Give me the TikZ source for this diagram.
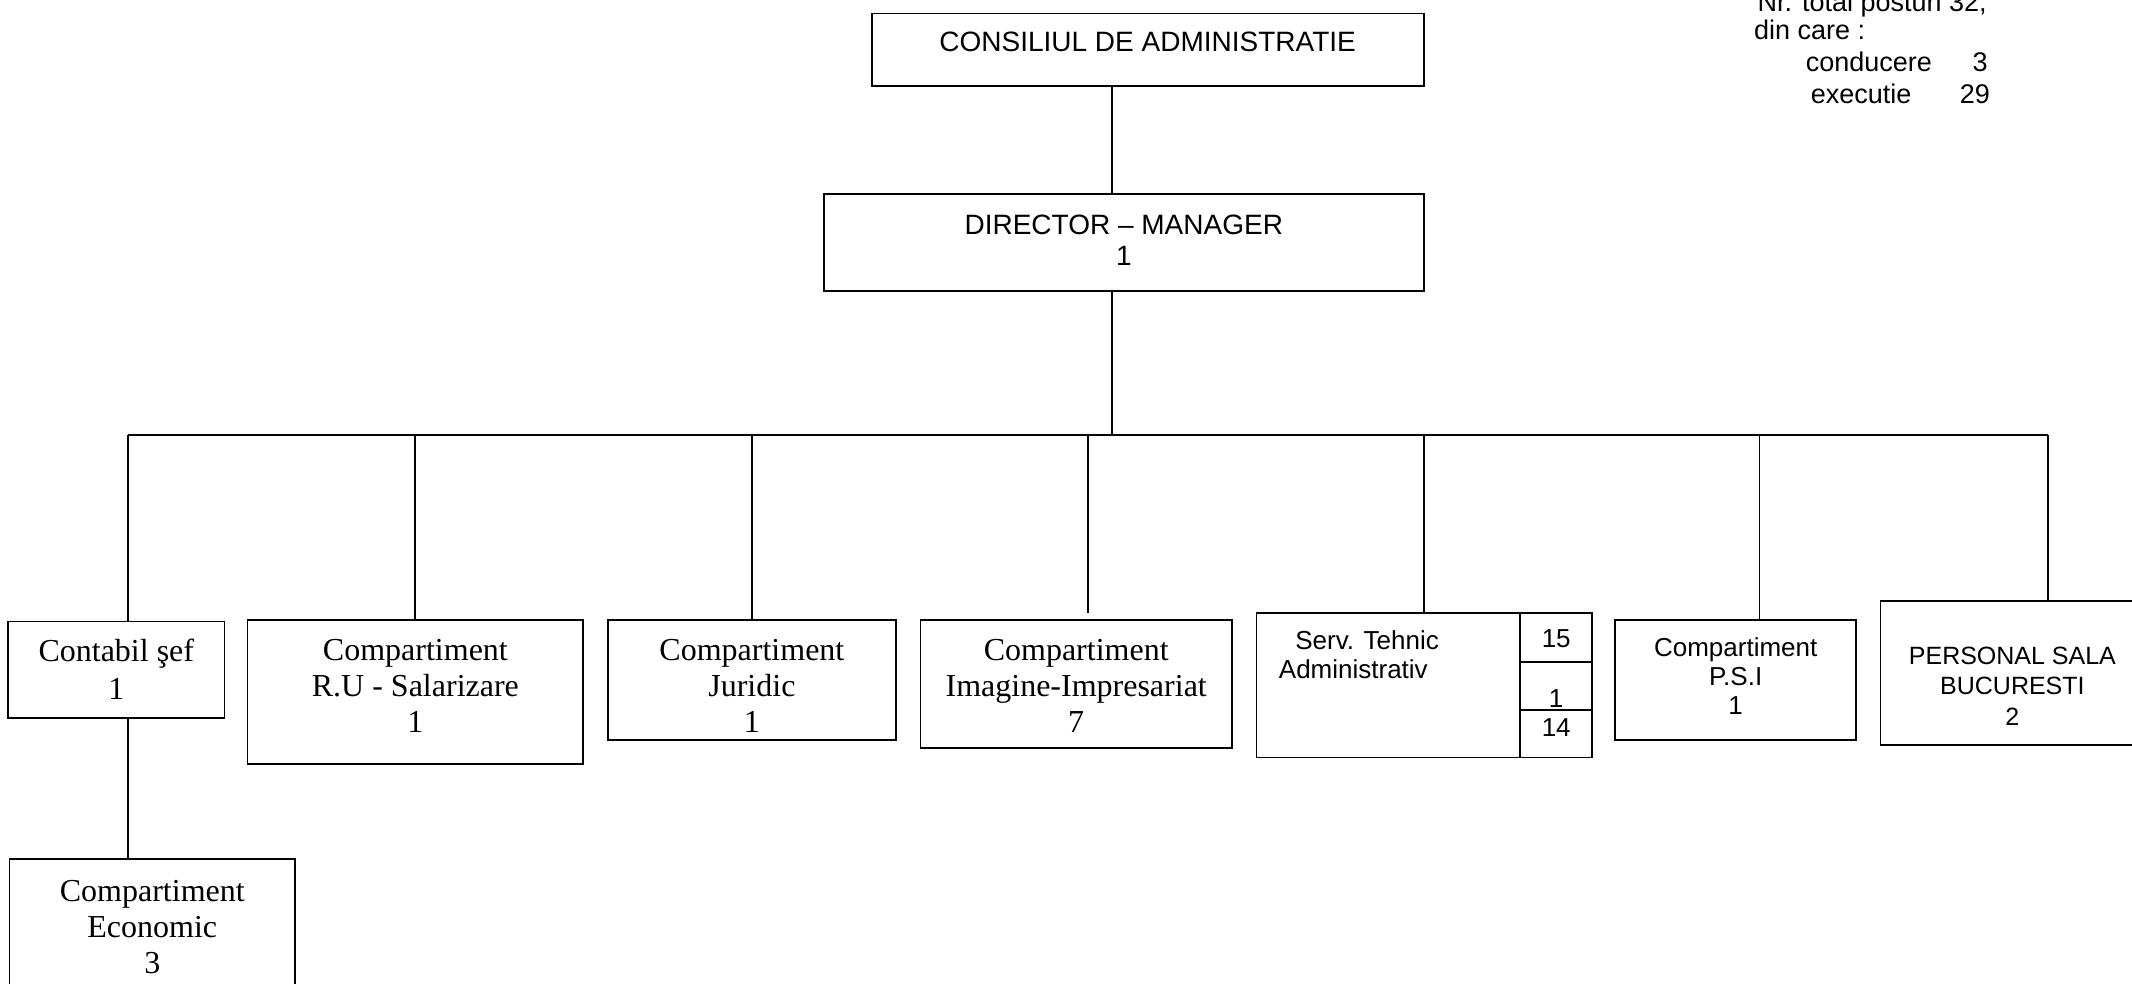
\documentclass[tikz,border=0pt]{standalone}
\usepackage{fontspec}
\setmainfont{Liberation Serif}
\newfontfamily\arialf[Ligatures=TeX]{Liberation Sans}
\begin{document}
\begin{tikzpicture}[x=0.5pt,y=-0.5pt, line width=0.9pt,
  box/.style={draw, rectangle, inner sep=0pt, outer sep=0pt},
  serift/.style={font=\fontsize{16}{18}\selectfont, align=center, inner sep=0pt},
  sanst/.style={font=\arialf\fontsize{13}{14.5}\selectfont, align=center, inner sep=0pt},
  bigsans/.style={font=\arialf\fontsize{14}{15.6}\selectfont, align=center, inner sep=0pt},
]
\useasboundingbox (0,0) rectangle (2132,984);
\clip (0,0) rectangle (2132,984);

% boxes
\node[box, minimum width=276pt, minimum height=36.05pt] (cons) at (1147.6,49.65) {};
\node[box, minimum width=299.8pt, minimum height=48.3pt] (dir) at (1123.8,242.7) {};
\node[box, minimum width=108.1pt, minimum height=48.25pt] (cont) at (116.3,669.65) {};
\node[box, minimum width=142.75pt, minimum height=75.35pt] (econ) at (152.25,934.65) {};
\node[box, minimum width=167.9pt, minimum height=72.1pt] (ru) at (415.4,692.1) {};
\node[box, minimum width=144.1pt, minimum height=59.85pt] (jur) at (751.9,679.85) {};
\node[box, minimum width=155.7pt, minimum height=63.9pt] (img) at (1076.2,683.9) {};
\node[box, minimum width=167.9pt, minimum height=72.1pt] (serv) at (1424.3,685.3) {};
\node[box, minimum width=120.35pt, minimum height=59.85pt] (psi) at (1735.65,679.85) {};
\node[box, minimum width=134.75pt, minimum height=72.05pt] (pers) at (2015.25,673.05) {};

% Serv. Tehnic subdivisions
\coordinate (dv) at (1520.1,685);
\coordinate (h1) at (1520.1,661.8);
\coordinate (h2) at (1520.1,709.8);
\draw (dv |- serv.north) -- (dv |- serv.south);
\draw (h1) -- (h1 -| serv.east);
\draw (h2) -- (h2 -| serv.east);

% connectors
\coordinate (tk) at (1112.2,435);
\coordinate (j1) at (127.8,435);
\coordinate (j2) at (414.7,435);
\coordinate (j3) at (751.9,435);
\coordinate (j4) at (1087.8,435);
\coordinate (j5) at (1423.6,435);
\coordinate (j6) at (1759.4,435);
\coordinate (j7) at (2047.7,435);
\draw (tk |- cons.south) -- (tk |- dir.north);
\draw (tk |- dir.south) -- (tk);
\draw (j1) -- (j7);
\draw (j1) -- (j1 |- cont.north);
\draw (j1 |- cont.south) -- (j1 |- econ.north);
\draw (j2) -- (j2 |- ru.north);
\draw (j3) -- (j3 |- jur.north);
\draw[shorten >=3.4pt] (j4) -- (j4 |- img.north);
\draw (j5) -- (j5 |- serv.north);
\draw (j6) -- (j6 |- psi.north);
\draw (j7) -- (j7 |- pers.north);

% texts
\node[bigsans] (tcons) at (1147.6,42.2) {CONSILIUL DE ADMINISTRATIE};
\node[bigsans] (tdir) at (1123.8,240) {DIRECTOR \textendash{} MANAGER\\1};
\node[serift, font=\fontsize{16}{19}\selectfont] (tcont) at (116.3,669) {Contabil şef\\1};
\node[serift] (tecon) at (152.3,926.6) {Compartiment\\Economic\\3};
\node[serift] (tru) at (415.4,686) {Compartiment\\R.U - Salarizare\\1};
\node[serift] (tjur) at (751.9,686) {Compartiment\\Juridic\\1};
\node[serift] (timg) at (1076.2,686) {Compartiment\\Imagine-Impresariat\\7};
\node[sanst, anchor=west] (tserv1) at (1294.4,640.4) {Serv. Tehnic};
\node[sanst, anchor=west] (tserv2) at (1278,669) {Administrativ};
\node[sanst] (n15) at (1556.2,639) {15};
\node[sanst] (n1) at (1556.2,699) {1};
\node[sanst] (n14) at (1556.2,727.4) {14};
\node[sanst] (tpsi) at (1735.7,676.4) {Compartiment\\P.S.I\\1};
\node[sanst, font=\arialf\fontsize{12.5}{15.3}\selectfont] (tpers) at (2012.4,686) {PERSONAL SALA\\BUCURESTI\\2};

% totals
\begin{scope}[every node/.style={font=\arialf\fontsize{13.5}{16}\selectfont, anchor=base west, inner sep=0pt}]
\node (tot1) at (1756.7,11.7) {Nr. total posturi 32,};
\node (tot2) at (1753.3,39.3) {din care :};
\node (tot3) at (1805,71.7) {conducere};
\node (tot3n) at (1971.7,71.7) {3};
\node (tot4) at (1810,104) {executie};
\node (tot4n) at (1959,104) {29};
\end{scope}
\end{tikzpicture}
\end{document}
